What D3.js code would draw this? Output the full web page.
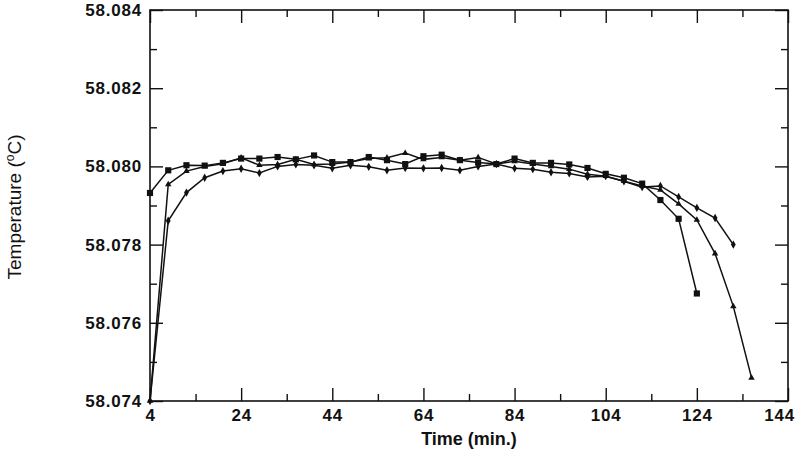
<!DOCTYPE html>
<html>
<head>
<meta charset="utf-8">
<script src="https://cdn.jsdelivr.net/npm/d3@7"></script>
<style>
    body { margin: 0; background: #fff; }
    text { font-family: "Liberation Sans", Arial, sans-serif; }
</style>
</head>
<body>
<script>
// Time points (min.) for each run
var timesA = [4, 8, 12, 16, 20, 24, 28, 32, 36, 40, 44, 48, 52, 56, 60, 64,
    68, 72, 76, 80, 84, 88, 92, 96, 100, 104, 108, 112, 116, 120, 124];
var timesB = [4, 8, 12, 16, 20, 24, 28, 32, 36, 40, 44, 48, 52, 56, 60, 64,
    68, 72, 76, 80, 84, 88, 92, 96, 100, 104, 108, 112, 116, 120, 124, 128,
    132, 136];
var timesC = [4, 8, 12, 16, 20, 24, 28, 32, 36, 40, 44, 48, 52, 56, 60, 64,
    68, 72, 76, 80, 84, 88, 92, 96, 100, 104, 108, 112, 116, 120, 124, 128,
    132];

// Temperatures (deg C)
var tempsA = [58.07932, 58.07990, 58.08003, 58.08002, 58.08009, 58.08020,
    58.08020, 58.08024, 58.08018, 58.08028, 58.08011, 58.08011, 58.08024,
    58.08016, 58.08006, 58.08026, 58.08030, 58.08016, 58.08010, 58.08006,
    58.08020, 58.08009, 58.08009, 58.08005, 58.07996, 58.07981, 58.07971,
    58.07956, 58.07914, 58.07866, 58.07675];
var tempsB = [58.07400, 58.07954, 58.07988, 58.08000, 58.08007, 58.08022,
    58.08003, 58.08005, 58.08018, 58.08005, 58.08006, 58.08011, 58.08020,
    58.08022, 58.08034, 58.08018, 58.08023, 58.08016, 58.08023, 58.08006,
    58.08013, 58.08006, 58.08000, 58.07993, 58.07980, 58.07975, 58.07962,
    58.07950, 58.07940, 58.07904, 58.07863, 58.07777, 58.07642, 58.07459];
var tempsC = [58.07400, 58.07861, 58.07933, 58.07971, 58.07988, 58.07994,
    58.07983, 58.08000, 58.08005, 58.08003, 58.07995, 58.08003, 58.07999,
    58.07990, 58.07996, 58.07995, 58.07996, 58.07990, 58.08000, 58.08006,
    58.07995, 58.07993, 58.07985, 58.07982, 58.07973, 58.07975, 58.07962,
    58.07947, 58.07950, 58.07922, 58.07894, 58.07868, 58.07800];

// Tick values
var xMajor = [4, 24, 44, 64, 84, 104, 124, 144];
var xMinor = [14, 34, 54, 74, 94, 114, 134];
var yMajor = [58.074, 58.076, 58.078, 58.080, 58.082, 58.084];
var yMinor = [58.075, 58.077, 58.079, 58.081, 58.083];

var margin = {top: 10, right: 12, bottom: 57, left: 150},
    width = 800 - margin.left - margin.right,
    height = 458 - margin.top - margin.bottom;

var svg = d3.select("body").append("svg")
    .attr("width", 800)
    .attr("height", 458)
    .append("g")
    .attr("transform", "translate(" + margin.left + "," + margin.top + ")");

var xScale = d3.scaleLinear().domain([4, 144]).range([0, width]);
var yScale = d3.scaleLinear().domain([58.074, 58.084]).range([height, 0]);

// Ticks point into the plot on all four sides
function drawAxis(axisFn, scale, values, size, labels, transform) {
    var ax = axisFn(scale).tickValues(values).tickSize(-size)
        .tickSizeOuter(0).tickPadding(8);
    if (labels) {
        ax.tickFormat(labels);
    } else {
        ax.tickFormat("");
    }
    var g = svg.append("g")
        .attr("transform", transform)
        .call(ax);
    g.select(".domain").remove();
    g.selectAll("line").attr("stroke", "#111").attr("stroke-width", 1.4);
    g.selectAll("text")
        .attr("fill", "#111")
        .attr("font-size", "17px")
        .attr("font-weight", "bold")
        .attr("letter-spacing", "0.8px");
    return g;
}

var fmtY = d3.format(".3f");
var fmtX = function (d) { return d; };

var xg = drawAxis(d3.axisBottom, xScale, xMajor, 13, fmtX,
    "translate(0," + height + ")");
// keep the last label inside the page
xg.selectAll("text").filter(function (d) { return d === 144; })
    .attr("dx", "-9");
drawAxis(d3.axisBottom, xScale, xMinor, 7, null,
    "translate(0," + height + ")");
drawAxis(d3.axisTop, xScale, xMajor, 13, null, "translate(0,0)");
drawAxis(d3.axisTop, xScale, xMinor, 7, null, "translate(0,0)");
drawAxis(d3.axisLeft, yScale, yMajor, 13, fmtY, "translate(0,0)");
drawAxis(d3.axisLeft, yScale, yMinor, 7, null, "translate(0,0)");
drawAxis(d3.axisRight, yScale, yMajor, 13, null,
    "translate(" + width + ",0)");
drawAxis(d3.axisRight, yScale, yMinor, 7, null,
    "translate(" + width + ",0)");

// Plot frame
svg.append("rect")
    .attr("x", 0)
    .attr("y", 0)
    .attr("width", width)
    .attr("height", height)
    .attr("fill", "none")
    .attr("stroke", "#111")
    .attr("stroke-width", 1.6);

var line = d3.line()
    .x(function (d) { return xScale(d.t); })
    .y(function (d) { return yScale(d.v); });

var series = [
    {times: timesA, temps: tempsA, symbol: d3.symbolSquare, size: 38},
    {times: timesB, temps: tempsB, symbol: d3.symbolTriangle, size: 18},
    {times: timesC, temps: tempsC, symbol: d3.symbolDiamond, size: 20}
];

series.forEach(function (s) {
    var pts = s.times.map(function (t, i) { return {t: t, v: s.temps[i]}; });

    svg.append("path")
        .datum(pts)
        .attr("fill", "none")
        .attr("stroke", "#111")
        .attr("stroke-width", 1.5)
        .attr("d", line);

    svg.selectAll(null)
        .data(pts)
        .enter()
        .append("path")
        .attr("d", d3.symbol().type(s.symbol).size(s.size))
        .attr("transform", function (d) {
            return "translate(" + xScale(d.t) + "," + yScale(d.v) + ")";
        })
        .attr("fill", "#111");
});

// Axis titles
svg.append("text")
    .attr("x", width / 2)
    .attr("y", height + 44)
    .attr("text-anchor", "middle")
    .attr("font-size", "18px")
    .attr("font-weight", "bold")
    .attr("fill", "#111")
    .text("Time (min.)");

var yTitle = svg.append("text")
    .attr("transform", "rotate(-90)")
    .attr("x", -197)
    .attr("y", -129)
    .attr("text-anchor", "middle")
    .attr("font-size", "19px")
    .attr("fill", "#111");
yTitle.append("tspan").text("Temperature (");
yTitle.append("tspan").attr("font-size", "12px").attr("dy", "-7")
    .text("o");
yTitle.append("tspan").attr("dy", "7").text("C)");
</script>
</body>
</html>
